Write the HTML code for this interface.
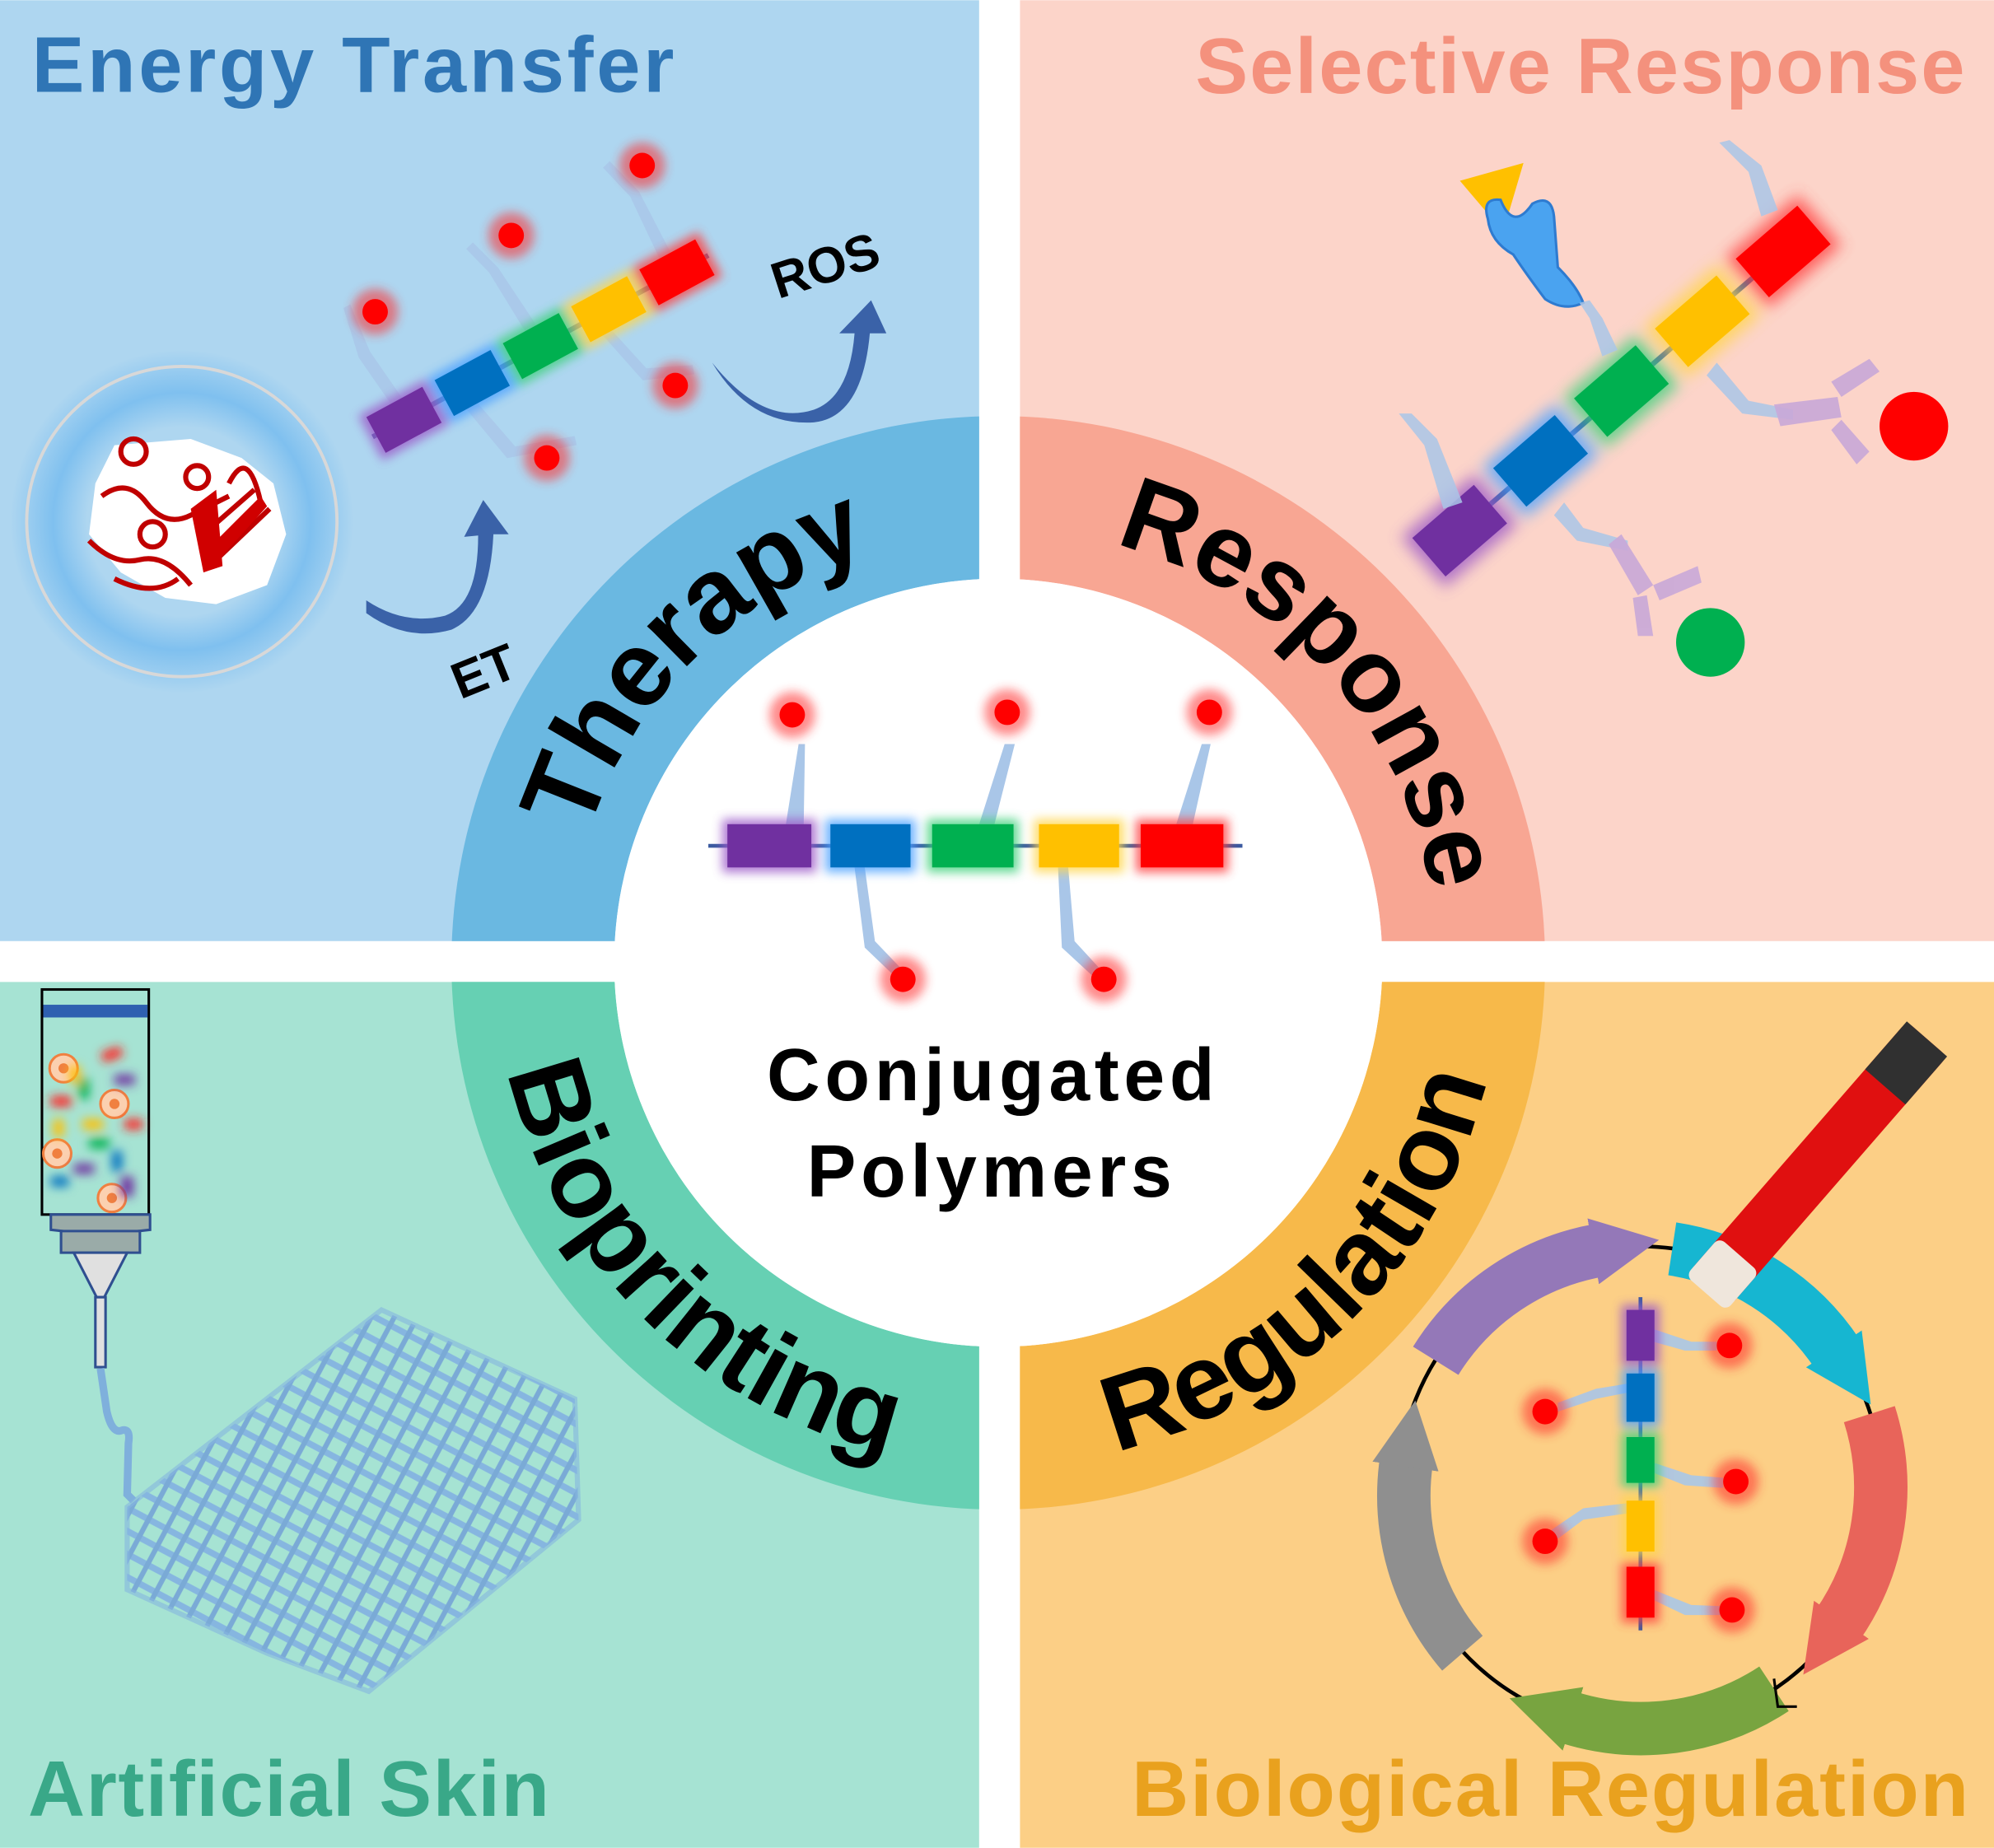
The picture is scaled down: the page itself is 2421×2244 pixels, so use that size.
<!DOCTYPE html>
<html><head><meta charset="utf-8"><style>
html,body{margin:0;padding:0;background:#fff}
svg{display:block}
text{font-family:"Liberation Sans",sans-serif;font-weight:bold}
</style></head><body>
<svg width="2421" height="2244" viewBox="0 0 1568 1453" xmlns="http://www.w3.org/2000/svg">
<defs>
<filter id="glow" x="-100%" y="-100%" width="300%" height="300%"><feGaussianBlur stdDeviation="6"/></filter>
<filter id="glow2" x="-100%" y="-100%" width="300%" height="300%"><feGaussianBlur stdDeviation="4"/></filter>
<radialGradient id="halo" cx="0.5" cy="0.5" r="0.5">
<stop offset="0.55" stop-color="#aed6f0"/><stop offset="0.75" stop-color="#7fc0ef"/><stop offset="1" stop-color="#aed6f0"/></radialGradient>
<pattern id="lat" width="16" height="16" patternUnits="userSpaceOnUse" patternTransform="rotate(28)">
<rect width="16" height="16" fill="none"/>
<line x1="0" y1="8" x2="16" y2="8" stroke="#86b6e0" stroke-width="5"/>
<line x1="8" y1="0" x2="8" y2="16" stroke="#7aaad6" stroke-width="4"/>
</pattern>
<marker id="ah" viewBox="0 0 10 10" refX="1" refY="5" markerWidth="1.25" markerHeight="1.4" orient="auto"><path d="M0,0 L10,5 L0,10 z" fill="context-stroke"/></marker>
<g id="dot"><circle r="18" fill="#ff2a2a" opacity="0.55" filter="url(#glow2)"/><circle r="10" fill="#ff0000"/></g>
<path id="pTher" d="M 447 757 A 338 338 0 0 1 785 419"/>
<path id="pResp" d="M 703 429 A 338 338 0 0 1 1108 874"/>
<path id="pBio" d="M 390 757 A 395 395 0 0 0 785 1152"/>
<path id="pReg" d="M 785 1152 A 395 395 0 0 0 1180 757"/>
</defs>

<rect x="0" y="0" width="770" height="740" fill="#aed6f0"/>
<rect x="802" y="0" width="766" height="740" fill="#fcd4c9"/>
<rect x="0" y="772" width="770" height="681" fill="#a6e3d3"/>
<rect x="802" y="772" width="766" height="681" fill="#fccf86"/>

<path d="M355 757 A430 430 0 0 1 785 327 L785 757 Z" fill="#6ab8e1"/>
<path d="M785 327 A430 430 0 0 1 1215 757 L785 757 Z" fill="#f8a693"/>
<path d="M355 757 A430 430 0 0 0 785 1187 L785 757 Z" fill="#66d0b3"/>
<path d="M785 1187 A430 430 0 0 0 1215 757 L785 757 Z" fill="#f7b94a"/>
<circle cx="785" cy="757" r="302" fill="#fff"/>
<rect x="770" y="0" width="32" height="1453" fill="#fff"/>
<rect x="0" y="740" width="1568" height="32" fill="#fff"/>
<circle cx="785" cy="757" r="302" fill="#fff"/>

<text font-size="84" fill="#000"><textPath href="#pTher" startOffset="50%" text-anchor="middle">Therapy</textPath></text>
<text font-size="82" fill="#000"><textPath href="#pResp" startOffset="50%" text-anchor="middle">Response</textPath></text>
<text font-size="84" fill="#000"><textPath href="#pBio" startOffset="50%" text-anchor="middle">Bioprinting</textPath></text>
<text font-size="84" fill="#000"><textPath href="#pReg" startOffset="50%" text-anchor="middle">Regulation</textPath></text>

<text x="25" y="72" font-size="62" fill="#2f75b5" textLength="505">Energy Transfer</text>
<text x="940" y="73" font-size="62" fill="#f4917d" textLength="605">Selective Response</text>
<text x="22" y="1428" font-size="62" fill="#39a888" textLength="410">Artificial Skin</text>
<text x="890" y="1428" font-size="62" fill="#e9a11e" textLength="658">Biological Regulation</text>

<g>
<path d="M618 648 L628 585 L633 585 L632 648Z M770 648 L790 585 L798 585 L782 648Z M925 648 L945 585 L952 585 L938 648Z" fill="#a9c6e8"/>
<path d="M680 682 L688 740 L712 765 L706 770 L680 745 L672 682Z M840 682 L845 740 L868 765 L862 770 L835 745 L832 682Z" fill="#a9c6e8"/>
<line x1="557" y1="665" x2="977" y2="665" stroke="#3b5aa0" stroke-width="3"/>
<g filter="url(#glow2)" opacity="0.8">
<rect x="568" y="644" width="74" height="42" fill="#9b59c8"/><rect x="649" y="644" width="71" height="42" fill="#4aa0ff"/>
<rect x="729" y="644" width="72" height="42" fill="#3ed07a"/><rect x="813" y="644" width="71" height="42" fill="#ffd54a"/>
<rect x="893" y="644" width="73" height="42" fill="#ff4040"/></g>
<rect x="572" y="648" width="66" height="34" fill="#7030a0"/><rect x="653" y="648" width="63" height="34" fill="#0070c0"/>
<rect x="733" y="648" width="64" height="34" fill="#00b050"/><rect x="817" y="648" width="63" height="34" fill="#ffc000"/>
<rect x="897" y="648" width="65" height="34" fill="#ff0000"/>
<use href="#dot" x="623" y="562"/><use href="#dot" x="792" y="560"/><use href="#dot" x="951" y="560"/>
<use href="#dot" x="710" y="770"/><use href="#dot" x="868" y="770"/>
</g>
<text x="779" y="865" font-size="58" text-anchor="middle" textLength="352">Conjugated</text>
<text x="778" y="941" font-size="58" text-anchor="middle" textLength="287">Polymers</text>

<circle cx="143" cy="410" r="135" fill="url(#halo)"/>
<circle cx="143" cy="410" r="122" fill="none" stroke="#d8d8d8" stroke-width="2.5"/>
<g>
<path d="M90 350 L150 345 L190 360 L215 380 L225 420 L210 460 L170 475 L130 470 L95 450 L70 420 L75 380Z" fill="#fff"/>
<g fill="none" stroke="#c00000" stroke-width="4">
<circle cx="105" cy="355" r="10"/><circle cx="155" cy="375" r="9"/><circle cx="120" cy="420" r="10"/>
<path d="M80 390 Q100 375 115 395 T150 405 T180 390"/><path d="M70 425 Q90 445 110 440 T150 460"/>
<path d="M160 420 L200 385"/><path d="M170 440 L212 400"/><path d="M180 380 Q195 350 205 395"/>
<path d="M90 455 Q120 470 140 455"/></g>
<path d="M165 430 L205 390 L210 398 L172 440Z M150 400 L170 385 L175 445 L160 450Z" fill="#d00000"/>
</g>
<g transform="translate(425,272) rotate(-28.4)">
<path d="M-125 -15 L-130 -60 L-122 -100 L-116 -100 L-120 -60 L-115 -15Z M-5 -15 L-8 -70 L-15 -95 L-8 -97 L0 -70 L5 -15Z M115 -15 L118 -70 L110 -100 L117 -102 L126 -70 L125 -15Z" fill="#a9c6e8" opacity="0.8"/>
<path d="M-65 15 L-55 60 L-10 75 L-12 82 L-65 65 L-75 15Z M55 15 L65 55 L98 70 L96 77 L58 62 L47 15Z" fill="#a9c6e8" opacity="0.8"/>
<line x1="-150" y1="0" x2="150" y2="0" stroke="#3b5aa0" stroke-width="4"/>
<g filter="url(#glow2)" opacity="0.8"><rect x="-152" y="-20" width="60" height="40" fill="#9b59c8"/><rect x="-91" y="-20" width="60" height="40" fill="#4aa0ff"/><rect x="-30" y="-20" width="60" height="40" fill="#3ed07a"/><rect x="31" y="-20" width="60" height="40" fill="#ffd54a"/><rect x="92" y="-20" width="60" height="40" fill="#ff4040"/></g>
<rect x="-147" y="-16" width="50" height="32" fill="#7030a0"/><rect x="-86" y="-16" width="50" height="32" fill="#0070c0"/><rect x="-25" y="-16" width="50" height="32" fill="#00b050"/><rect x="36" y="-16" width="50" height="32" fill="#ffc000"/><rect x="97" y="-16" width="50" height="32" fill="#ff0000"/>
</g>
<use href="#dot" x="295" y="245"/><use href="#dot" x="402" y="185"/><use href="#dot" x="505" y="130"/><use href="#dot" x="430" y="360"/><use href="#dot" x="531" y="303"/>
<path d="M560 285 Q600 335 640 322 Q668 312 672 262 L660 262 L685 236 L697 262 L684 262 Q678 328 640 332 Q590 335 560 285Z" fill="#3a62a8"/>
<path d="M288 482 Q320 505 355 495 Q385 482 388 420 L400 420 L380 393 L365 422 L376 421 Q376 475 350 484 Q318 492 288 472Z" fill="#3a62a8"/>
<text x="0" y="0" font-size="40" transform="translate(612,235) rotate(-18)">ROS</text>
<text x="0" y="0" font-size="40" transform="translate(362,550) rotate(-22)">ET</text>

<polygon points="1148,142 1198,128 1182,182" fill="#ffc000"/>
<path d="M1170 172 Q1165 155 1180 157 Q1190 182 1205 160 Q1220 152 1222 170 L1225 210 Q1240 225 1245 238 Q1230 245 1215 235 Q1200 215 1190 200 Q1172 190 1170 172Z" fill="#4aa3f0" stroke="#2e7bd0" stroke-width="2"/>
<g transform="translate(1272,310) rotate(-40.8)">
<line x1="-195" y1="0" x2="195" y2="0" stroke="#3b5aa0" stroke-width="4"/>
<g filter="url(#glow)" opacity="0.8"><rect x="-202" y="-26" width="76" height="52" fill="#9b59c8"/><rect x="-118" y="-26" width="76" height="52" fill="#4aa0ff"/><rect x="-34" y="-26" width="76" height="52" fill="#3ed07a"/><rect x="50" y="-26" width="76" height="52" fill="#ffd54a"/><rect x="134" y="-26" width="76" height="52" fill="#ff4040"/></g>
<rect x="-196" y="-20" width="64" height="40" fill="#7030a0"/><rect x="-112" y="-20" width="64" height="40" fill="#0070c0"/><rect x="-28" y="-20" width="64" height="40" fill="#00b050"/><rect x="56" y="-20" width="64" height="40" fill="#ffc000"/><rect x="140" y="-20" width="64" height="40" fill="#ff0000"/>
</g>
<g fill="#a9c6e8" opacity="0.85">
<path d="M1135 400 L1120 350 L1100 325 L1110 325 L1130 345 L1150 395Z"/>
<path d="M1260 280 L1250 250 L1242 238 L1250 236 L1260 250 L1272 275Z"/>
<path d="M1385 170 L1375 135 L1352 112 L1360 110 L1385 130 L1398 165Z"/>
<path d="M1350 285 L1375 315 L1410 322 L1410 330 L1370 325 L1342 295Z"/>
<path d="M1230 395 L1245 415 L1280 425 L1280 433 L1240 425 L1222 405Z"/>
</g>
<g fill="#c9a8d8" opacity="0.9">
<path d="M1395 318 L1445 312 L1448 328 L1400 335Z"/><path d="M1440 300 L1470 282 L1478 292 L1448 312Z"/><path d="M1448 330 L1470 355 L1460 365 L1440 338Z"/>
<path d="M1275 420 L1300 460 L1288 468 L1265 428Z"/><path d="M1300 460 L1335 445 L1338 458 L1305 472Z"/><path d="M1295 468 L1300 500 L1288 500 L1284 470Z"/>
</g>
<circle cx="1505" cy="335" r="27" fill="#ff0000"/>
<circle cx="1345" cy="505" r="27" fill="#00b050"/>

<rect x="33" y="778" width="84" height="177" fill="none" stroke="#000" stroke-width="2"/>
<rect x="34" y="790" width="82" height="10" fill="#2f60b0"/>
<g>
<circle cx="50" cy="840" r="11" fill="#fbd0b0" stroke="#f08040" stroke-width="2"/><circle cx="50" cy="840" r="4" fill="#f08040"/>
<circle cx="90" cy="868" r="11" fill="#fbd0b0" stroke="#f08040" stroke-width="2"/><circle cx="90" cy="868" r="4" fill="#f08040"/>
<circle cx="45" cy="907" r="11" fill="#fbd0b0" stroke="#f08040" stroke-width="2"/><circle cx="45" cy="907" r="4" fill="#f08040"/>
<circle cx="88" cy="942" r="11" fill="#fbd0b0" stroke="#f08040" stroke-width="2"/><circle cx="88" cy="942" r="4" fill="#f08040"/>
<g filter="url(#glow2)">
<rect x="80" y="825" width="16" height="8" fill="#ff2020" transform="rotate(-20 88 829)"/>
<rect x="40" y="862" width="16" height="8" fill="#ff2020"/><rect x="62" y="848" width="8" height="16" fill="#00b050"/>
<rect x="65" y="880" width="16" height="8" fill="#ffc000"/><rect x="98" y="880" width="14" height="8" fill="#ff2020"/>
<rect x="70" y="895" width="16" height="8" fill="#00b050"/><rect x="88" y="905" width="8" height="16" fill="#0070c0"/>
<rect x="58" y="915" width="16" height="8" fill="#7030a0"/><rect x="95" y="925" width="10" height="16" fill="#7030a0"/>
<rect x="40" y="925" width="14" height="8" fill="#0070c0"/><rect x="55" y="838" width="8" height="14" fill="#ffc000"/>
<rect x="90" y="845" width="16" height="8" fill="#7030a0"/><rect x="42" y="880" width="8" height="14" fill="#ffc000"/>
</g></g>
<path d="M40 955 L118 955 L118 967 Q79 972 40 967Z" fill="#9aaba8" stroke="#2f4f90" stroke-width="2"/>
<path d="M48 968 L110 968 L110 985 L48 985Z" fill="#9aaba8" stroke="#2f4f90" stroke-width="2"/>
<path d="M58 985 L100 985 L82 1020 L76 1020Z" fill="#e0e0e0" stroke="#2f4f90" stroke-width="2"/>
<rect x="75" y="1020" width="8" height="55" fill="#e0e0e0" stroke="#2f4f90" stroke-width="2"/>
<path d="M79 1076 L84 1110 Q88 1127 95 1125 Q103 1122 101 1135 L100 1175 L105 1180" fill="none" stroke="#7fb0dc" stroke-width="6"/>
<polygon points="100,1185 300,1030 452,1100 455,1195 290,1330 210,1300 100,1250" fill="url(#lat)"/>
<polygon points="100,1185 300,1030 452,1100 455,1195 290,1330 210,1300 100,1250" fill="none" stroke="#86b6e0" stroke-width="4" opacity="0.6"/>

<circle cx="1290" cy="1170" r="190" fill="none" stroke="#000" stroke-width="3"/>
<g fill="none" stroke-width="42">
<path d="M1129 1070 A190 190 0 0 1 1258 983" stroke="#9478b8" marker-end="url(#ah)"/>
<path d="M1315 982 A190 190 0 0 1 1445 1065" stroke="#16b6d1" marker-end="url(#ah)"/>
<path d="M1470 1112 A190 190 0 0 1 1445 1278" stroke="#e8645a" marker-end="url(#ah)"/>
<path d="M1395 1328 A190 190 0 0 1 1232 1350" stroke="#78a440" marker-end="url(#ah)"/>
<path d="M1150 1300 A190 190 0 0 1 1106 1148" stroke="#8f8f8f" marker-end="url(#ah)"/>
</g>
<path d="M1395 1320 L1398 1342 L1413 1342" fill="none" stroke="#000" stroke-width="2"/>
<g transform="translate(1430,915) rotate(41)">
<rect x="-21" y="-130" width="42" height="260" rx="6" fill="#e01010"/>
<rect x="-21" y="-130" width="42" height="50" fill="#303030"/>
<rect x="-21" y="95" width="42" height="40" rx="6" fill="#efe6dc"/>
</g>
<g fill="#a9c6e8" opacity="0.9">
<path d="M1300 1045 L1330 1055 L1350 1055 L1350 1062 L1325 1062 L1300 1055Z"/>
<path d="M1280 1095 L1255 1100 L1225 1110 L1225 1103 L1255 1092 L1280 1088Z"/>
<path d="M1300 1150 L1330 1160 L1355 1162 L1355 1170 L1325 1168 L1300 1158Z"/>
<path d="M1280 1190 L1245 1195 L1225 1210 L1220 1203 L1245 1186 L1280 1182Z"/>
<path d="M1300 1250 L1330 1262 L1355 1263 L1355 1270 L1325 1270 L1300 1258Z"/>
</g>
<line x1="1290" y1="1020" x2="1290" y2="1282" stroke="#3b5aa0" stroke-width="3"/>
<g filter="url(#glow2)" opacity="0.8"><rect x="1275" y="1026" width="30" height="48" fill="#9b59c8"/><rect x="1275" y="1076" width="30" height="46" fill="#4aa0ff"/><rect x="1275" y="1126" width="30" height="44" fill="#3ed07a"/><rect x="1275" y="1176" width="30" height="48" fill="#ffd54a"/><rect x="1275" y="1228" width="30" height="48" fill="#ff4040"/></g>
<rect x="1279" y="1030" width="22" height="40" fill="#7030a0"/><rect x="1279" y="1080" width="22" height="38" fill="#0070c0"/><rect x="1279" y="1130" width="22" height="36" fill="#00b050"/><rect x="1279" y="1180" width="22" height="40" fill="#ffc000"/><rect x="1279" y="1232" width="22" height="40" fill="#ff0000"/>
<use href="#dot" x="1360" y="1058"/><use href="#dot" x="1215" y="1110"/><use href="#dot" x="1365" y="1165"/><use href="#dot" x="1215" y="1212"/><use href="#dot" x="1362" y="1266"/>
</svg>
</body></html>
